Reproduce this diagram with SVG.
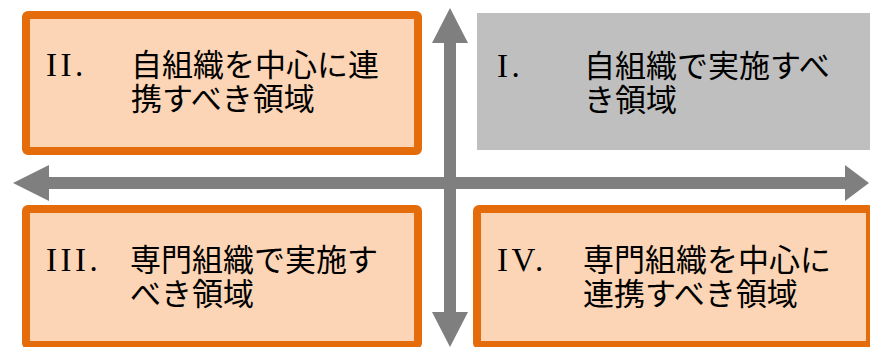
<svg xmlns="http://www.w3.org/2000/svg" width="870" height="347" viewBox="0 0 870 347">
<style>
.box{fill:#FBD5B5;stroke:#E46C0A;stroke-width:8}
.gray{fill:#BFBFBF}
.num{font-family:"Liberation Serif","Times New Roman",serif;font-size:33px;fill:#000}
.jp{font-family:"Noto Sans CJK JP","Noto Sans",sans-serif;font-size:31px;fill:#000}
.arr{fill:#7F7F7F}
</style>
<rect width="870" height="347" fill="#fff"/>
<g id="q2">
<rect class="box" x="26" y="15" width="392" height="136" rx="2"/>
<text class="num" x="46 60.5 75" y="76">II.</text>
<text class="jp" x="131" y="76">自組織を中心に連</text>
<text class="jp" x="131" y="110">携すべき領域</text>
</g>
<g id="q1">
<rect class="gray" x="477" y="13" width="393" height="137"/>
<text class="num" x="497 511.5" y="77">I.</text>
<text class="jp" x="584" y="77">自組織で実施すべ</text>
<text class="jp" x="584" y="111">き領域</text>
</g>
<g id="q3">
<rect class="box" x="26" y="209" width="392" height="136" rx="2"/>
<text class="num" x="46 60.5 75 89.5" y="271">III.</text>
<text class="jp" x="130" y="271">専門組織で実施す</text>
<text class="jp" x="130" y="305">べき領域</text>
</g>
<g id="q4">
<rect class="box" x="477" y="209" width="393" height="136" rx="2"/>
<text class="num" x="497 511.5 535" y="271">IV.</text>
<text class="jp" x="583" y="271">専門組織を中心に</text>
<text class="jp" x="583" y="305">連携すべき領域</text>
</g>
<g id="connectors">
<polygon class="arr" points="450,8 468,43 456,43 456,312 468,312 450,347 432,312 444,312 444,43 432,43"/>
<polygon class="arr" points="13,183 49,165 49,177 845,177 845,165 869,183 845,201 845,189 49,189 49,201"/>
</g>
</svg>
